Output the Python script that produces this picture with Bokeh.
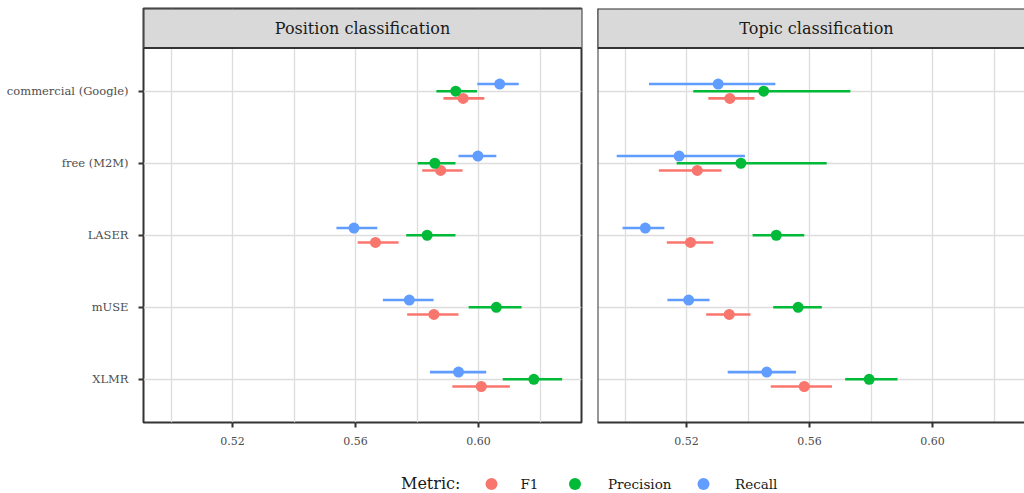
from bokeh.plotting import figure
from bokeh.models import Range1d, FixedTicker, BoxAnnotation, Label, Span, ColumnDataSource, NumeralTickFormatter
from bokeh.layouts import row, column
from bokeh.embed import file_html
from bokeh.resources import INLINE
from bokeh.core.properties import value

FONT = "DejaVu Serif"

# ---------------- data ----------------
models = ["commercial (Google)", "free (M2M)", "LASER", "mUSE", "XLMR"]
metrics = ["F1", "Precision", "Recall"]
metric_colors = ["#F8766D", "#00BA38", "#619CFF"]
panel_titles = ["Position classification", "Topic classification"]
x_ticks = [0.52, 0.56, 0.60]
x_minor_ticks = [0.50, 0.54, 0.58, 0.62]

# Position classification (estimate, lower, upper), order = models
pos_f1 = [0.5950, 0.5877, 0.5665, 0.5855, 0.6009]
pos_f1_lo = [0.5886, 0.5817, 0.5607, 0.5768, 0.5915]
pos_f1_hi = [0.6019, 0.5948, 0.5740, 0.5935, 0.6102]
pos_prec = [0.5926, 0.5858, 0.5833, 0.6058, 0.6180]
pos_prec_lo = [0.5863, 0.5802, 0.5765, 0.5968, 0.6079]
pos_prec_hi = [0.5995, 0.5925, 0.5925, 0.6140, 0.6272]
pos_rec = [0.6069, 0.5998, 0.5595, 0.5775, 0.5935]
pos_rec_lo = [0.5996, 0.5935, 0.5538, 0.5689, 0.5842]
pos_rec_hi = [0.6131, 0.6058, 0.5671, 0.5854, 0.6025]

# Topic classification
top_f1 = [0.5341, 0.5235, 0.5213, 0.5339, 0.5583]
top_f1_lo = [0.5271, 0.5110, 0.5136, 0.5264, 0.5474]
top_f1_hi = [0.5421, 0.5314, 0.5287, 0.5408, 0.5673]
top_prec = [0.5451, 0.5377, 0.5492, 0.5563, 0.5794]
top_prec_lo = [0.5222, 0.5168, 0.5415, 0.5482, 0.5716]
top_prec_hi = [0.5733, 0.5656, 0.5583, 0.5640, 0.5886]
top_rec = [0.5303, 0.5176, 0.5066, 0.5207, 0.5461]
top_rec_lo = [0.5078, 0.4973, 0.4992, 0.5138, 0.5334]
top_rec_hi = [0.5489, 0.5390, 0.5128, 0.5275, 0.5556]

panel_data = {
    "Position classification": [(pos_f1, pos_f1_lo, pos_f1_hi),
                                (pos_prec, pos_prec_lo, pos_prec_hi),
                                (pos_rec, pos_rec_lo, pos_rec_hi)],
    "Topic classification": [(top_f1, top_f1_lo, top_f1_hi),
                             (top_prec, top_prec_lo, top_prec_hi),
                             (top_rec, top_rec_lo, top_rec_hi)],
}

# ---------------- layout constants ----------------
DODGE = [-0.1, 0.0, 0.1]
N = len(models)
Y_LO, Y_HI = 0.4, N + 0.6
PX_PER_Y = 72.0
STRIP_PX = 39.5
Y_TOP = Y_HI + STRIP_PX / PX_PER_Y
FRAME_H = int(round((Y_TOP - Y_LO) * PX_PER_Y))
PX_PER_X = 3075.0
X_START = 0.52 - 89.0 / PX_PER_X
FULL_W = 438
X_FULL_END = X_START + FULL_W / PX_PER_X
GRID = "#dddddd"
DARK = "#333333"

y_pos = {m: N - i for i, m in enumerate(models)}
label_map = {N - i: m for i, m in enumerate(models)}


def make_panel(title, first, frame_w, left_b, right_b):
    x_end = X_START + frame_w / PX_PER_X
    p = figure(frame_width=frame_w, frame_height=FRAME_H,
               x_range=Range1d(X_START, x_end), y_range=Range1d(Y_LO, Y_TOP),
               output_backend="svg", toolbar_location=None,
               min_border_left=left_b, min_border_right=right_b,
               min_border_top=8, min_border_bottom=33,
               background_fill_color="white", border_fill_color="white")
    # grids
    p.xgrid.ticker = FixedTicker(ticks=x_ticks, minor_ticks=x_minor_ticks)
    p.xgrid.grid_line_color = GRID
    p.xgrid.grid_line_width = 1.3
    p.xgrid.minor_grid_line_color = GRID
    p.xgrid.minor_grid_line_width = 1.3
    p.ygrid.ticker = FixedTicker(ticks=list(label_map.keys()))
    p.ygrid.grid_line_color = GRID
    p.ygrid.grid_line_width = 1.3

    # x axis
    xa = p.xaxis[0]
    xa.ticker = FixedTicker(ticks=x_ticks, minor_ticks=x_minor_ticks)
    xa.formatter = NumeralTickFormatter(format="0.00")
    xa.minor_tick_line_color = None
    xa.major_tick_line_color = DARK
    xa.major_tick_line_width = 2
    xa.major_tick_out = 5
    xa.major_tick_in = 0
    xa.major_label_standoff = 9
    xa.major_label_text_font = FONT
    xa.major_label_text_font_size = "11px"
    xa.major_label_text_color = "#4d4d4d"

    ya = p.yaxis[0]
    if first:
        ya.ticker = FixedTicker(ticks=list(label_map.keys()))
        ya.major_label_overrides = label_map
        ya.minor_tick_line_color = None
        ya.major_tick_line_color = DARK
        ya.major_tick_line_width = 2
        ya.major_tick_out = 5
        ya.major_tick_in = 0
        ya.major_label_standoff = 10
        ya.major_label_text_font = FONT
        ya.major_label_text_font_size = "11.5px"
        ya.major_label_text_color = "#4d4d4d"
        ya.axis_line_color = None
        xa.axis_line_color = None
        p.outline_line_color = DARK
        p.outline_line_width = 2
        p.outline_line_alpha = 1
    else:
        ya.visible = False
        p.outline_line_color = None
        xa.axis_line_color = DARK
        xa.axis_line_width = 2
        p.add_layout(Span(location=X_START, dimension="height",
                          line_color=DARK, line_width=2))

    # data
    series = panel_data[title]
    for k, (est, lo, hi) in enumerate(series):
        src = ColumnDataSource(dict(
            est=est, lo=lo, hi=hi,
            y=[y_pos[m] + DODGE[k] for m in models]))
        p.segment(x0="lo", x1="hi", y0="y", y1="y", source=src,
                  line_color=metric_colors[k], line_width=2.6)
    for k, (est, lo, hi) in enumerate(series):
        src = ColumnDataSource(dict(
            est=est, y=[y_pos[m] + DODGE[k] for m in models]))
        p.scatter(x="est", y="y", source=src, size=11,
                  fill_color=metric_colors[k], line_color=None)

    # facet strip
    p.add_layout(BoxAnnotation(left=X_START, right=X_FULL_END + 0.05,
                               bottom=Y_HI, top=Y_TOP,
                               fill_color="#d9d9d9", fill_alpha=1.0,
                               line_color=DARK, line_width=2, line_alpha=1.0))
    p.add_layout(Label(x=(X_START + X_FULL_END) / 2, y=(Y_HI + Y_TOP) / 2,
                       text=title, text_align="center", text_baseline="middle",
                       text_font=FONT, text_font_size="16px",
                       text_color="#1a1a1a"))
    return p


p1 = make_panel(panel_titles[0], True, FULL_W, 143, 8)
p2 = make_panel(panel_titles[1], False, 1024 - 589 - 8, 8, 0)

# legend strip (y measured from the bottom of the strip)
LEG_H = 38
leg = figure(width=1024, height=LEG_H, x_range=Range1d(0, 1024), y_range=Range1d(0, LEG_H),
             output_backend="svg", toolbar_location=None,
             min_border_left=0, min_border_right=0, min_border_top=0, min_border_bottom=0)
leg.axis.visible = False
leg.grid.visible = False
leg.outline_line_color = None
leg_y = 9.5
leg_dot_x = [491, 574.5, 703]
leg_text_x = [520, 607.5, 734.5]
leg.scatter(x=leg_dot_x, y=[leg_y] * 3, size=12, fill_color=metric_colors, line_color=None)
leg.text(x=leg_text_x, y=[leg_y] * 3, text=metrics, text_font=value(FONT),
         text_font_size="13.5px", text_baseline="middle", text_color="#1a1a1a")
leg.add_layout(Label(x=400.5, y=leg_y + 0.5, text="Metric:", text_font=FONT,
                     text_font_size="16px", text_baseline="middle",
                     text_color="#1a1a1a"))

layout = column(row(p1, p2, spacing=0), leg, spacing=0)
open("out.html", "w").write(file_html(layout, INLINE))
